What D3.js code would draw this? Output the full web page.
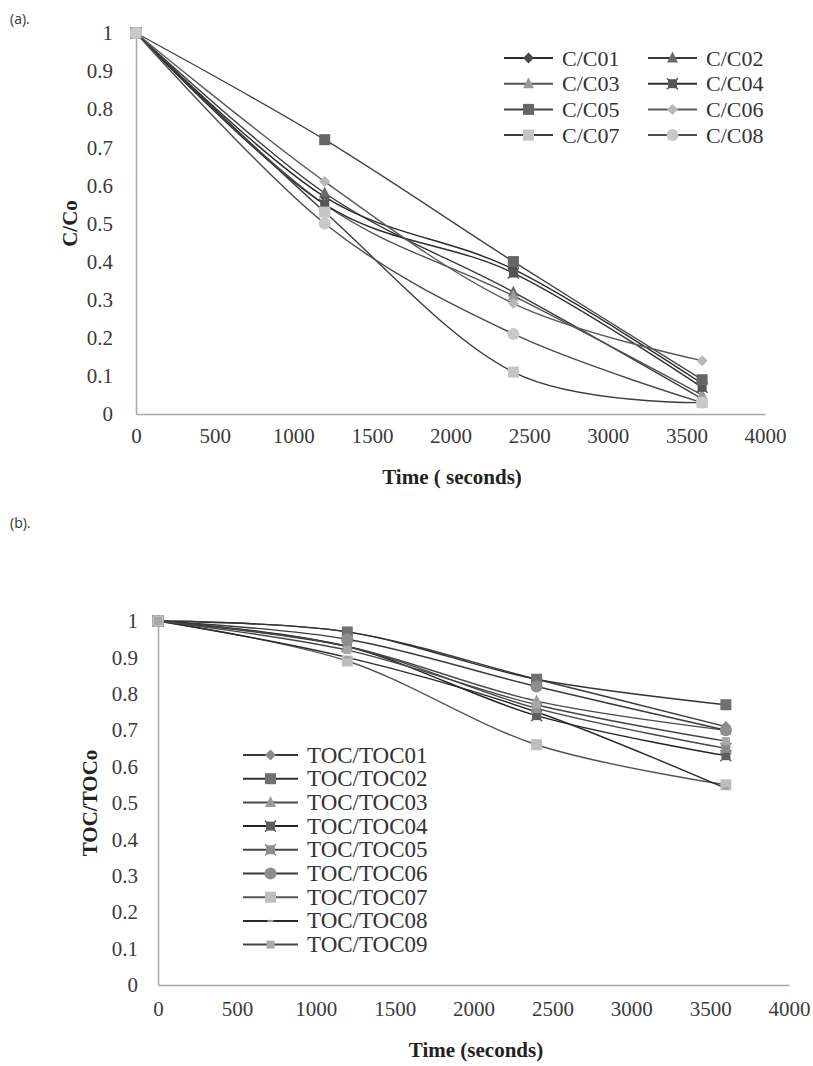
<!DOCTYPE html>
<html>
<head>
<meta charset="utf-8">
<script src="https://cdn.jsdelivr.net/npm/d3@7"></script>
<style>
  body { margin: 0; background: #fff; }
  svg { display: block; }
</style>
</head>
<body>
<div id="chart"></div>
<script>
// time points (seconds)
const times = [0, 1200, 2400, 3600];
const xTicks = [0, 500, 1000, 1500, 2000, 2500, 3000, 3500, 4000];
const yTicks = [0, 0.1, 0.2, 0.3, 0.4, 0.5, 0.6, 0.7, 0.8, 0.9, 1];

// (a) C/Co series
const seriesA = ["C/C01", "C/C02", "C/C03", "C/C04", "C/C05", "C/C06", "C/C07", "C/C08"];
const c01 = [1, 0.57, 0.38, 0.08];
const c02 = [1, 0.58, 0.32, 0.04];
const c03 = [1, 0.55, 0.31, 0.05];
const c04 = [1, 0.55, 0.37, 0.07];
const c05 = [1, 0.72, 0.40, 0.09];
const c06 = [1, 0.61, 0.29, 0.14];
const c07 = [1, 0.53, 0.11, 0.03];
const c08 = [1, 0.50, 0.21, 0.03];
const valuesA = [c01, c02, c03, c04, c05, c06, c07, c08];

// (b) TOC/TOCo series
const seriesB = ["TOC/TOC01", "TOC/TOC02", "TOC/TOC03", "TOC/TOC04", "TOC/TOC05",
  "TOC/TOC06", "TOC/TOC07", "TOC/TOC08", "TOC/TOC09"];
const toc01 = [1, 0.97, 0.84, 0.71];
const toc02 = [1, 0.97, 0.84, 0.77];
const toc03 = [1, 0.93, 0.78, 0.70];
const toc04 = [1, 0.93, 0.74, 0.63];
const toc05 = [1, 0.93, 0.76, 0.65];
const toc06 = [1, 0.95, 0.82, 0.70];
const toc07 = [1, 0.89, 0.66, 0.55];
const toc08 = [1, 0.90, 0.75, 0.54];
const toc09 = [1, 0.92, 0.77, 0.67];
const valuesB = [toc01, toc02, toc03, toc04, toc05, toc06, toc07, toc08, toc09];

// marker look per series
const styleA = [
  { shape: "diamond", fill: "#4a4a4a", line: "#2a2a2a" },
  { shape: "triangle", fill: "#6a6a6a", line: "#3a3a3a" },
  { shape: "triangle", fill: "#9a9a9a", line: "#505050" },
  { shape: "star", fill: "#555", line: "#2e2e2e" },
  { shape: "square", fill: "#666", line: "#444" },
  { shape: "diamond", fill: "#b8b8b8", line: "#5a5a5a" },
  { shape: "square", fill: "#c4c4c4", line: "#3c3c3c" },
  { shape: "circle", fill: "#c8c8c8", line: "#4c4c4c" },
];
const styleB = [
  { shape: "diamond", fill: "#8a8a8a", line: "#3a3a3a" },
  { shape: "square", fill: "#707070", line: "#333" },
  { shape: "triangle", fill: "#9a9a9a", line: "#4a4a4a" },
  { shape: "star", fill: "#606060", line: "#222" },
  { shape: "star", fill: "#8c8c8c", line: "#444" },
  { shape: "circle", fill: "#8e8e8e", line: "#3a3a3a" },
  { shape: "square", fill: "#bdbdbd", line: "#555" },
  { shape: "dash", fill: "#999", line: "#2a2a2a" },
  { shape: "square", fill: "#a8a8a8", line: "#444", small: true },
];

const width = 813;
const height = 1066;
const serif = "'Liberation Serif', 'Times New Roman', serif";

const svg = d3.select("#chart")
  .append("svg")
  .attr("width", width)
  .attr("height", height);

function marker(g, st, cx, cy) {
  const s = st.small ? 4 : 5.5;
  if (st.shape === "square") {
    g.append("rect").attr("x", cx - s).attr("y", cy - s)
      .attr("width", 2 * s).attr("height", 2 * s).attr("fill", st.fill);
  } else if (st.shape === "circle") {
    g.append("circle").attr("cx", cx).attr("cy", cy).attr("r", s + 0.5).attr("fill", st.fill);
  } else if (st.shape === "diamond") {
    g.append("path").attr("d", `M${cx},${cy - s}L${cx + s},${cy}L${cx},${cy + s}L${cx - s},${cy}Z`)
      .attr("fill", st.fill);
  } else if (st.shape === "triangle") {
    g.append("path").attr("d", `M${cx},${cy - s - 1}L${cx + s},${cy + s - 1}L${cx - s},${cy + s - 1}Z`)
      .attr("fill", st.fill);
  } else if (st.shape === "star") {
    g.append("rect").attr("x", cx - s + 1).attr("y", cy - s + 1)
      .attr("width", 2 * s - 2).attr("height", 2 * s - 2).attr("fill", st.fill);
    g.append("path").attr("d", `M${cx - s},${cy - s}L${cx + s},${cy + s}M${cx + s},${cy - s}L${cx - s},${cy + s}`)
      .attr("stroke", st.fill).attr("stroke-width", 1.5);
  } else if (st.shape === "dash") {
    g.append("line").attr("x1", cx - 3).attr("x2", cx + 3).attr("y1", cy).attr("y2", cy)
      .attr("stroke", st.fill).attr("stroke-width", 2);
  }
}

function panel(opts) {
  const x = d3.scaleLinear().domain([0, 4000]).range(opts.xRange);
  const y = d3.scaleLinear().domain([0, 1]).range(opts.yRange);
  const g = svg.append("g");

  // axes: light gray lines, no tick marks
  const yAxis = g.append("g")
    .attr("transform", `translate(${x(0)},0)`)
    .call(d3.axisLeft(y).tickValues(yTicks).tickSize(0).tickPadding(opts.yPad)
      .tickFormat(d3.format("")));
  const xAxis = g.append("g")
    .attr("transform", `translate(0,${y(0)})`)
    .call(d3.axisBottom(x).tickValues(xTicks).tickSize(0).tickPadding(opts.xPad)
      .tickFormat(d3.format("d")));
  [yAxis, xAxis].forEach((a) => {
    a.select(".domain").attr("stroke", "#a8a8a8").attr("stroke-width", 1.5);
    a.selectAll("text").attr("font-family", serif).attr("font-size", opts.tickSize)
      .attr("fill", "#3a3a3a");
  });

  const line = d3.line()
    .curve(d3.curveCatmullRom.alpha(0))
    .x((d, i) => x(times[i]))
    .y((d) => y(d));

  opts.values.forEach((vals, k) => {
    g.append("path")
      .datum(vals)
      .attr("fill", "none")
      .attr("stroke", opts.styles[k].line)
      .attr("stroke-width", 1.4)
      .attr("d", line);
  });
  opts.values.forEach((vals, k) => {
    const mg = g.append("g");
    vals.forEach((v, i) => marker(mg, opts.styles[k], x(times[i]), y(v)));
  });

  // axis titles
  g.append("text")
    .attr("transform", `translate(${opts.yTitleX},${(y(0) + y(1)) / 2}) rotate(-90)`)
    .attr("text-anchor", "middle")
    .attr("dominant-baseline", "middle")
    .attr("font-family", serif).attr("font-weight", "bold").attr("font-size", 21)
    .attr("fill", "#222")
    .text(opts.yTitle);
  g.append("text")
    .attr("x", opts.xTitleX)
    .attr("y", opts.xTitleY)
    .attr("text-anchor", "middle")
    .attr("dominant-baseline", "middle")
    .attr("font-family", serif).attr("font-weight", "bold").attr("font-size", 21)
    .attr("fill", "#222")
    .text(opts.xTitle);

  // panel label
  g.append("text")
    .attr("x", 10).attr("y", opts.labelY)
    .attr("font-family", "'Open Sans', sans-serif").attr("font-size", 14)
    .attr("fill", "#333")
    .text(opts.label);

  // legend
  const lg = g.append("g");
  opts.names.forEach((name, k) => {
    const p = opts.legendPos(k);
    lg.append("line")
      .attr("x1", p.x).attr("x2", p.x + opts.legendLine)
      .attr("y1", p.y).attr("y2", p.y)
      .attr("stroke", opts.styles[k].line).attr("stroke-width", 2);
    marker(lg, opts.styles[k], p.x + opts.legendLine / 2, p.y);
    lg.append("text")
      .attr("x", p.x + opts.legendLine + 9).attr("y", p.y)
      .attr("dominant-baseline", "central")
      .attr("font-family", serif).attr("font-size", opts.legendSize)
      .attr("fill", "#333")
      .text(name);
  });
}

panel({
  values: valuesA, styles: styleA, names: seriesA,
  xRange: [136, 765], yRange: [414, 33],
  yPad: 23, xPad: 14, tickSize: 21,
  yTitle: "C/Co", yTitleX: 72,
  xTitle: "Time ( seconds)", xTitleX: 452, xTitleY: 479,
  label: "(a).", labelY: 24,
  legendLine: 49, legendSize: 22,
  legendPos: (k) => ({ x: k % 2 === 0 ? 504 : 648, y: 58 + Math.floor(k / 2) * 25.7 }),
});

panel({
  values: valuesB, styles: styleB, names: seriesB,
  xRange: [158, 789], yRange: [985, 621],
  yPad: 20, xPad: 16, tickSize: 21,
  yTitle: "TOC/TOCo", yTitleX: 92,
  xTitle: "Time (seconds)", xTitleX: 476, xTitleY: 1052,
  label: "(b).", labelY: 528,
  legendLine: 55, legendSize: 23,
  legendPos: (k) => ({ x: 243, y: 755 + k * 23.7 }),
});
</script>
</body>
</html>
